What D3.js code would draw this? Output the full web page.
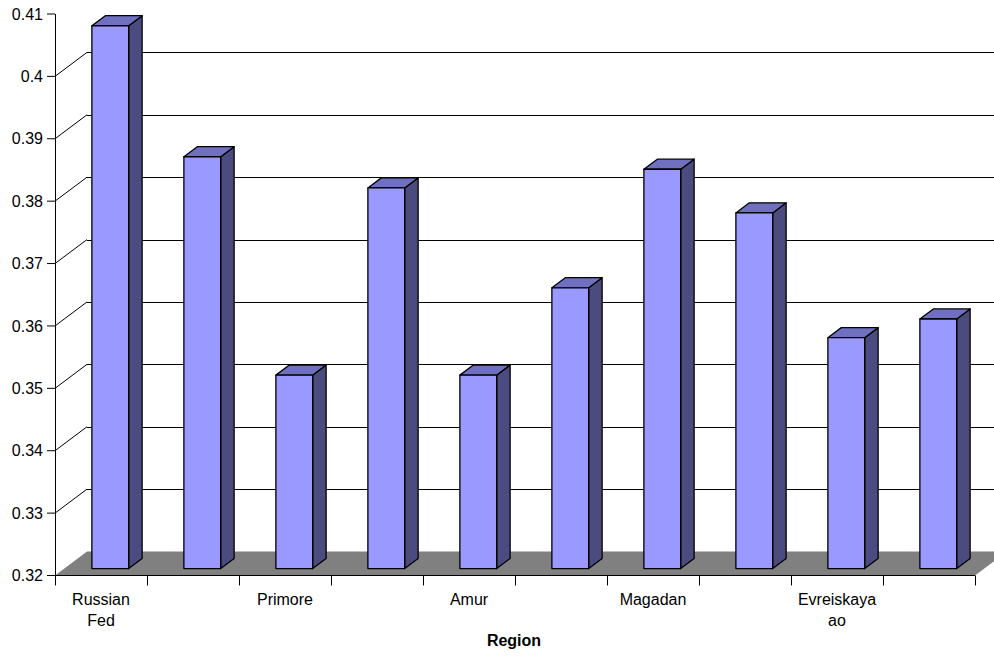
<!DOCTYPE html>
<html>
<head>
<meta charset="utf-8">
<script src="https://cdn.jsdelivr.net/npm/d3@7"></script>
<style>
  html, body { margin: 0; padding: 0; background: #fff; }
  svg { display: block; font-family: "Liberation Sans", Arial, sans-serif; }
</style>
</head>
<body>
<svg id="chart" width="994" height="657"></svg>
<script>
// Regions along the x axis and their index values
const regions = ["Russian Fed", "Sakha", "Primore", "Khabarovsk", "Amur",
                 "Kamchatka", "Magadan", "Sakhalin", "Evreiskaya ao", "Chukotka"];
const values = [0.407, 0.386, 0.351, 0.381, 0.351, 0.365, 0.384, 0.377, 0.357, 0.360];
const yTicks = [0.32, 0.33, 0.34, 0.35, 0.36, 0.37, 0.38, 0.39, 0.40, 0.41];
const axisTitle = "Region";

const svg = d3.select("#chart");

// Front plane of the 3-D plot and the depth vector of the floor
const x0 = 55, x1 = 975, yBottom = 575.5, yTop = 14;
const depth = { dx: 32, dy: -24 };
const barDepth = [0.29, 0.71];   // bars sit in the middle of the floor depth

const x = d3.scaleBand().domain(regions).range([x0, x1]);
const y = d3.scaleLinear().domain([0.32, 0.41]).range([yBottom, yTop]);

// project a point (front x, value, depth fraction) onto the screen
const P = (px, v, t) => [px + depth.dx * t, y(v) + depth.dy * t];

// back wall gridlines plus the short diagonals on the left
const grid = svg.append("g");
yTicks.filter(v => v > 0.32 && v < 0.41).forEach(v => {
  const a = P(x0, v, 0), b = P(x0, v, 1);
  grid.append("line")
    .attr("x1", a[0]).attr("y1", a[1]).attr("x2", b[0]).attr("y2", b[1])
    .attr("stroke", "#000").attr("stroke-width", 1);
  grid.append("line")
    .attr("x1", b[0]).attr("y1", Math.round(b[1]) + 0.5)
    .attr("x2", 994).attr("y2", Math.round(b[1]) + 0.5)
    .attr("stroke", "#000").attr("stroke-width", 1);
});

// grey floor
const floorPts = [P(x0, 0.32, 0), P(x1, 0.32, 0), P(x1, 0.32, 1), P(x0, 0.32, 1)];
svg.append("polygon")
  .attr("points", floorPts.map(p => p.join(",")).join(" "))
  .attr("fill", "#808080");

// 3-D columns
const bars = svg.append("g");
regions.forEach((r, i) => {
  const v = values[i];
  const bw = x.bandwidth() * 0.4;
  const cx = x(r) + x.bandwidth() / 2;
  const [t0, t1] = barDepth;
  // front-face corners in the front plane, shifted by the bar's depth
  const L = cx - bw / 2, R = cx + bw / 2;
  const fTL = P(L, v, t0), fTR = P(R, v, t0), fBL = P(L, 0.32, t0), fBR = P(R, 0.32, t0);
  const bTL = P(L, v, t1), bTR = P(R, v, t1), bBR = P(R, 0.32, t1);
  const poly = (pts, fill) => bars.append("polygon")
    .attr("points", pts.map(p => p.join(",")).join(" "))
    .attr("fill", fill).attr("stroke", "#000").attr("stroke-width", 1.3)
    .attr("stroke-linejoin", "round");
  poly([fTR, bTR, bBR, fBR], "#4B4B80");   // side
  poly([fTL, fTR, bTR, bTL], "#7070C0");   // top
  poly([fTL, fTR, fBR, fBL], "#9999FF");   // front
});

// value axis
const yAxis = svg.append("g");
yAxis.append("line")
  .attr("x1", x0 + 0.5).attr("y1", y(0.41)).attr("x2", x0 + 0.5).attr("y2", yBottom)
  .attr("stroke", "#000");
yTicks.forEach(v => {
  const yy = y(v);
  yAxis.append("line")
    .attr("x1", x0 - 8).attr("x2", x0).attr("y1", yy).attr("y2", yy)
    .attr("stroke", "#000");
  yAxis.append("text")
    .attr("x", x0 - 12).attr("y", yy).attr("dy", "0.35em")
    .attr("text-anchor", "end").attr("font-size", 16).attr("fill", "#000")
    .text(String(+v.toFixed(2)));
});

// category axis along the front edge of the floor
const xAxis = svg.append("g");
xAxis.append("line")
  .attr("x1", x0).attr("x2", x1).attr("y1", yBottom).attr("y2", yBottom)
  .attr("stroke", "#000");
const bounds = regions.map(r => x(r)).concat([x1]);
bounds.forEach(bx => {
  xAxis.append("line")
    .attr("x1", Math.round(bx) + 0.5).attr("x2", Math.round(bx) + 0.5)
    .attr("y1", yBottom).attr("y2", yBottom + 10)
    .attr("stroke", "#000");
});
regions.forEach((r, i) => {
  if (i % 2 !== 0) return;          // every other category is labelled
  const words = r.split(" ");
  const t = xAxis.append("text")
    .attr("x", x(r) + x.bandwidth() / 2).attr("y", 605)
    .attr("text-anchor", "middle").attr("font-size", 16).attr("fill", "#000");
  words.forEach((w, k) => {
    t.append("tspan").attr("x", x(r) + x.bandwidth() / 2)
      .attr("dy", k === 0 ? 0 : 21).text(w);
  });
});

svg.append("text")
  .attr("x", 514).attr("y", 646)
  .attr("text-anchor", "middle").attr("font-size", 16).attr("font-weight", "bold")
  .attr("fill", "#000")
  .text(axisTitle);
</script>
</body>
</html>
